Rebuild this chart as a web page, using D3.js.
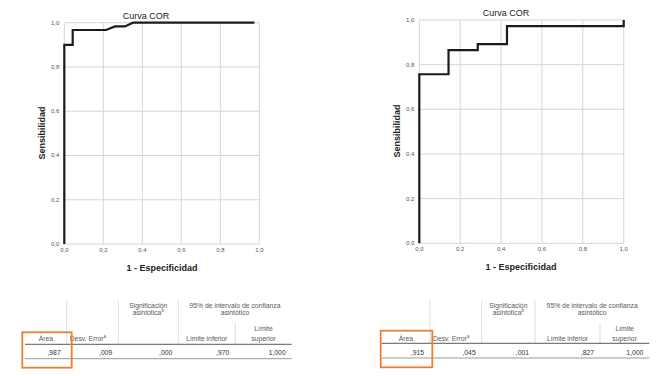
<!DOCTYPE html>
<html>
<head>
<meta charset="utf-8">
<script src="https://cdn.jsdelivr.net/npm/d3@7"></script>
<style>
  body { margin: 0; background: #fff; }
  text { font-family: "Liberation Sans", Arial, sans-serif; }
</style>
</head>
<body>
<svg id="roc" width="671" height="376"></svg>
<script>
// data: two ROC curves (1 - especificidad, sensibilidad)
const leftFpr = [0, 0, 0.043, 0.043, 0.214, 0.26, 0.311, 0.352, 0.975];
const leftTpr = [0, 0.9, 0.9, 0.967, 0.967, 0.983, 0.983, 1.0, 1.0];
const rightFpr = [0, 0, 0.143, 0.143, 0.286, 0.286, 0.429, 0.429, 1.0, 1.0];
const rightTpr = [0, 0.757, 0.757, 0.865, 0.865, 0.892, 0.892, 0.973, 0.973, 1.0];

const ticks = [0, 0.2, 0.4, 0.6, 0.8, 1.0];

// table data
const leftRow = [",987", ",009", ",000", ",970", "1,000"];
const rightRow = [",915", ",045", ",001", ",827", "1,000"];

const svg = d3.select("#roc");
const es = d3.formatLocale({ decimal: ",", thousands: ".", grouping: [3], currency: ["", "€"] });
const fmt = es.format(".1f");

function drawPanel(fpr, tpr, box, lab) {
  const x = d3.scaleLinear().domain([0, 1]).range([box.x0, box.x1]);
  const y = d3.scaleLinear().domain([0, 1]).range([box.y1, box.y0]);

  // grid
  const grid = svg.append("g");
  grid.selectAll(".gx").data(ticks).enter().append("line")
    .attr("x1", d => x(d)).attr("x2", d => x(d))
    .attr("y1", y(0)).attr("y2", y(1))
    .attr("stroke", "#d6d6d6").attr("stroke-width", 1);
  grid.selectAll(".gy").data(ticks).enter().append("line")
    .attr("x1", x(0)).attr("x2", x(1))
    .attr("y1", d => y(d)).attr("y2", d => y(d))
    .attr("stroke", "#d6d6d6").attr("stroke-width", 1);

  // tick labels
  svg.append("g").selectAll("text").data(ticks).enter().append("text")
    .attr("x", x(0) - 5).attr("y", d => y(d) + 2)
    .attr("text-anchor", "end")
    .attr("font-size", 6).attr("fill", "#555")
    .text(d => fmt(d));
  svg.append("g").selectAll("text").data(ticks).enter().append("text")
    .attr("x", d => x(d)).attr("y", y(0) + 8)
    .attr("text-anchor", "middle")
    .attr("font-size", 6).attr("fill", "#555")
    .text(d => fmt(d));

  // curve
  const pts = fpr.map((d, i) => [d, tpr[i]]);
  svg.append("path")
    .datum(pts)
    .attr("fill", "none")
    .attr("stroke", "#1b1b1b")
    .attr("stroke-width", 2.2)
    .attr("d", d3.line().x(d => x(d[0])).y(d => y(d[1])));

  // labels
  svg.append("text")
    .attr("x", lab.tx).attr("y", lab.ty)
    .attr("text-anchor", "middle")
    .attr("font-size", 9).attr("fill", "#222")
    .text("Curva COR");
  svg.append("text")
    .attr("x", lab.xx).attr("y", lab.xy)
    .attr("text-anchor", "middle")
    .attr("font-size", 9).attr("font-weight", "bold").attr("fill", "#222")
    .text("1 - Especificidad");
  svg.append("text")
    .attr("transform", `translate(${lab.yx},${lab.yy}) rotate(-90)`)
    .attr("text-anchor", "middle")
    .attr("font-size", 9).attr("font-weight", "bold").attr("fill", "#222")
    .text("Sensibilidad");
}

drawPanel(leftFpr, leftTpr,
  { x0: 64.3, x1: 259.3, y0: 22.7, y1: 244 },
  { tx: 146, ty: 19, xx: 162, xy: 271, yx: 45, yy: 133 });
drawPanel(rightFpr, rightTpr,
  { x0: 419.3, x1: 623.7, y0: 20, y1: 243.3 },
  { tx: 506, ty: 15.5, xx: 521, xy: 270, yx: 400, yy: 131 });

function drawTable(row, cols, box) {
  const g = svg.append("g");
  const gray = "#5a5a5a";
  const fs = 6.8;
  // vertical separators
  [1, 2, 3].forEach(i => {
    g.append("line").attr("x1", cols[i]).attr("x2", cols[i])
      .attr("y1", 300.5).attr("y2", box.hLine)
      .attr("stroke", "#dcdcdc");
  });
  g.append("line").attr("x1", cols[4]).attr("x2", cols[4])
    .attr("y1", 323).attr("y2", box.hLine)
    .attr("stroke", "#dcdcdc");
  // horizontal lines
  g.append("line").attr("x1", cols[0]).attr("x2", cols[5])
    .attr("y1", box.hLine).attr("y2", box.hLine)
    .attr("stroke", "#7a7a7a").attr("stroke-width", 1.2);
  g.append("line").attr("x1", cols[0]).attr("x2", cols[5])
    .attr("y1", box.bLine).attr("y2", box.bLine)
    .attr("stroke", "#9a9a9a").attr("stroke-width", 1);

  const t = (xp, yp, s, anchor) => g.append("text")
    .attr("x", xp).attr("y", yp).attr("text-anchor", anchor || "middle")
    .attr("font-size", fs).attr("fill", gray).text(s);

  const mid = (a, b) => (cols[a] + cols[b]) / 2;
  t(mid(0, 1), 341, "Área");
  const de = t(cols[1] + 3, 341, "Desv. Error", "start");
  de.append("tspan").attr("dy", -3).attr("font-size", 4.5).text("a");
  t(mid(2, 3), 307.5, "Significación");
  const as = t(mid(2, 3), 314.5, "asintótica");
  as.append("tspan").attr("dy", -3).attr("font-size", 4.5).text("b");
  t(mid(3, 5), 307.5, "95% de intervalo de confianza");
  t(mid(3, 5), 314.5, "asintótico");
  t(mid(3, 4), 341, "Límite inferior");
  t(mid(4, 5), 331, "Límite");
  t(mid(4, 5), 341, "superior");

  row.forEach((v, i) => {
    t(cols[i + 1] - 6, 355, v, "end").attr("fill", "#333");
  });

  // highlight box
  g.append("rect")
    .attr("x", box.rx).attr("y", box.ry)
    .attr("width", box.rw).attr("height", box.rh)
    .attr("fill", "none").attr("stroke", "#ED7D31").attr("stroke-width", 1.8);
}

drawTable(leftRow, [25, 66.7, 118.3, 178.3, 235.3, 291.7],
  { hLine: 344.3, bLine: 358.7, rx: 22.3, ry: 332.3, rw: 49.4, rh: 35.4 });
drawTable(rightRow, [381.7, 430, 481.7, 535, 600, 649.3],
  { hLine: 343.3, bLine: 358, rx: 380.7, ry: 330.7, rw: 51.6, rh: 36.6 });
</script>
</body>
</html>
